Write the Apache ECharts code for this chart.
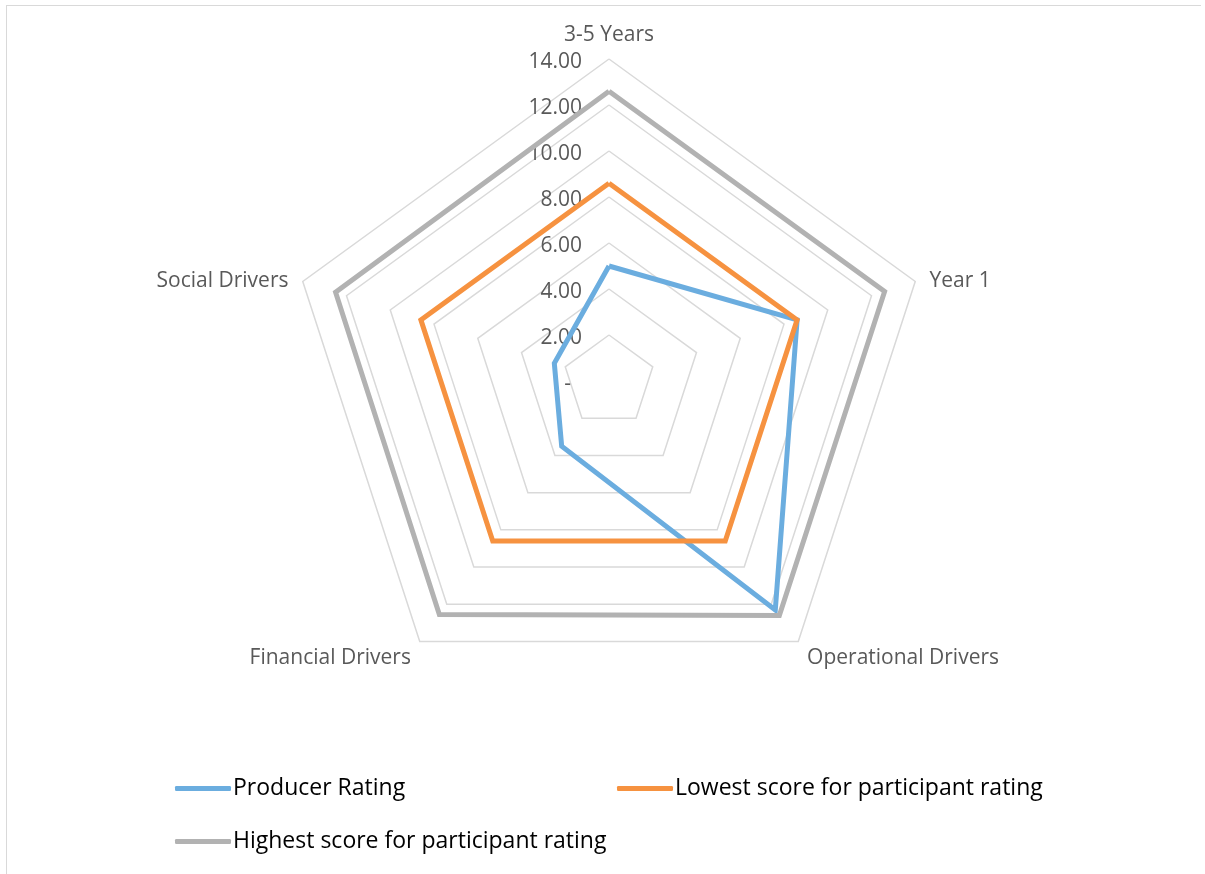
<!DOCTYPE html>
<html>
<head>
<meta charset="utf-8">
<title>Radar</title>
<script src="https://cdn.jsdelivr.net/npm/echarts@6/dist/echarts.min.js"></script>
<style>
  html, body { margin: 0; padding: 0; background: #fff; }
  #chart { width: 1205px; height: 874px; }
  #frame {
    position: absolute; left: 6px; top: 5px; width: 1194px; height: 900px;
    border-left: 1px solid #d9d9d9; border-top: 1px solid #d9d9d9;
    pointer-events: none;
  }
</style>
</head>
<body>
<div id="chart"></div>
<div id="frame"></div>
<script>
// kategori searah jarum jam, mulai dari atas
const categories = ['3-5 Years', 'Year 1', 'Operational Drivers', 'Financial Drivers', 'Social Drivers'];
const producerRating = [5.0, 8.6, 12.3, 3.5, 2.5];
const lowestScore = [8.6, 8.6, 8.6, 8.6, 8.6];
const highestScore = [12.6, 12.6, 12.6, 12.55, 12.5];
const seriesNames = ['Producer Rating', 'Lowest score for participant rating', 'Highest score for participant rating'];
const colors = ['#6BADDF', '#F69240', '#B2B2B2'];
const axisMax = 14;

const font = '"Open Sans", Lato, sans-serif';

// echarts radar berjalan berlawanan jarum jam, jadi urutan dibalik
const order = [0, 4, 3, 2, 1];
const reorder = arr => order.map(i => arr[i]);

const chart = echarts.init(document.getElementById('chart'));

const option = {
    animation: false,
    backgroundColor: 'transparent',
    legend: [0, 1, 2].map(i => ({
        data: [seriesNames[i]],
        left: i === 1 ? 617 : 175,
        top: i === 2 ? 830 : 777,
        padding: 0,
        icon: 'roundRect',
        itemWidth: 56,
        itemHeight: 5,
        selectedMode: false,
        textStyle: { fontFamily: font, fontSize: 23, color: '#000', padding: [0, 0, 0, -3] }
    })),
    radar: {
        center: [609, 381],
        radius: 322,
        startAngle: 90,
        shape: 'polygon',
        splitNumber: 7,
        nameGap: 15,
        indicator: reorder(categories).map((name, i) => ({
            name: name,
            min: 0,
            max: axisMax,
            axisLabel: i === 0 ? {} : { show: false },
            // geser sedikit ke bawah
            nameTextStyle: i === 0 ? { verticalAlign: 'bottom', lineHeight: 17 } : { verticalAlign: 'top', lineHeight: 8 }
        })),
        axisName: { color: '#595959', fontSize: 21, fontFamily: font },
        splitLine: { lineStyle: { color: '#d9d9d9', width: 1.5 } },
        splitArea: { show: false },
        axisLine: { show: false },
        axisTick: { show: false },
        axisLabel: {
            show: true,
            margin: 27,
            color: '#595959',
            fontSize: 21,
            fontFamily: font,
            verticalAlign: 'top',
            lineHeight: 6,
            formatter: v => (v === 0 ? '-  ' : v.toFixed(2))
        }
    },
    series: [{
        type: 'radar',
        symbol: 'none',
        data: [producerRating, lowestScore, highestScore].map((vals, i) => ({
            name: seriesNames[i],
            value: reorder(vals),
            itemStyle: { color: colors[i] },
            lineStyle: { color: colors[i], width: 5, join: 'miter', miterLimit: 4 }
        }))
    }]
};

chart.setOption(option);
</script>
</body>
</html>
